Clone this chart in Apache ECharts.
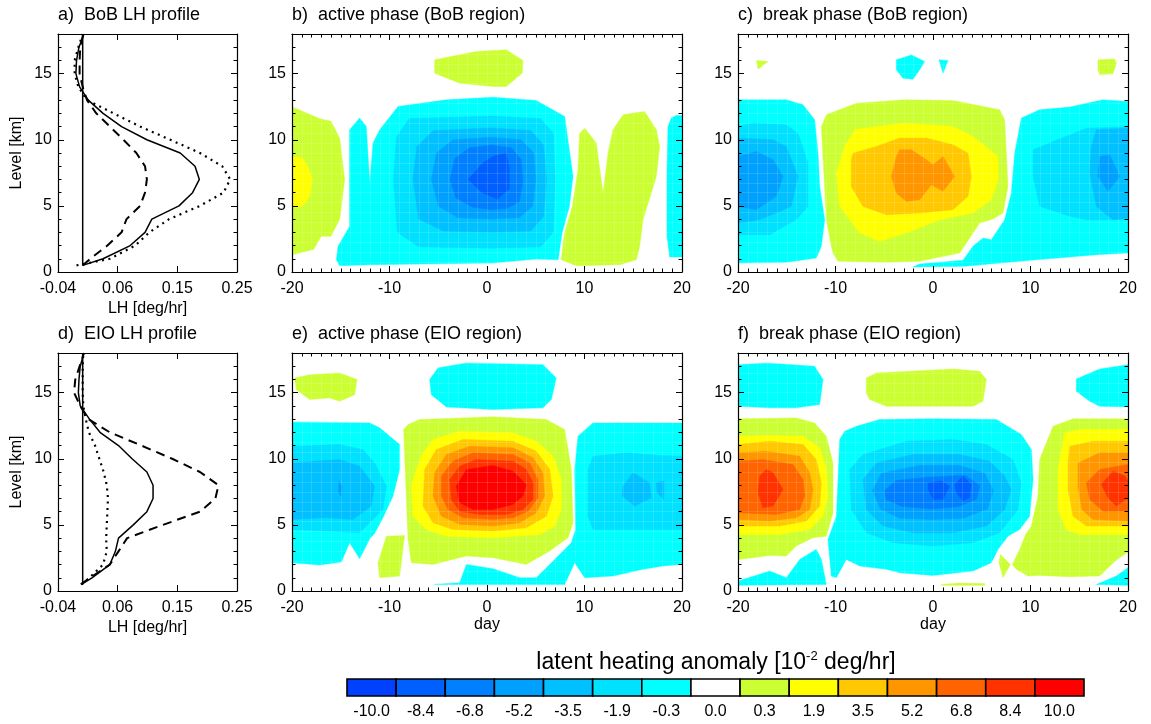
<!DOCTYPE html>
<html>
<head>
<meta charset="utf-8">
<script src="https://cdn.jsdelivr.net/npm/echarts@6/dist/echarts.min.js"></script>
<style>
html, body { margin: 0; padding: 0; background: #fff; }
#chart { width: 1151px; height: 724px; }
</style>
</head>
<body>
<div id="chart"></div>
<script>
// ---- profile data (LH in deg/hr at each level in km) ----
var levels = [0.5, 1, 2, 3, 4, 5, 6, 7, 8, 9, 10, 11, 12, 13, 14, 15, 16, 17, 18];
var bobSolid  = [0.000, 0.033, 0.077, 0.101, 0.112, 0.156, 0.178, 0.189, 0.182, 0.158, 0.104, 0.063, 0.033, 0.009, -0.005, -0.011, -0.010, -0.006, 0.002];
var bobDashed = [0.000, 0.012, 0.040, 0.063, 0.071, 0.093, 0.101, 0.104, 0.101, 0.087, 0.066, 0.044, 0.022, 0.007, 0.000, -0.005, -0.005, -0.004, 0.001];
var bobDotted = [-0.010, 0.044, 0.085, 0.108, 0.140, 0.190, 0.228, 0.239, 0.226, 0.190, 0.142, 0.093, 0.050, 0.007, -0.007, -0.013, -0.013, -0.007, 0.000];
var eioSolid  = [-0.002, 0.015, 0.044, 0.053, 0.058, 0.082, 0.104, 0.114, 0.114, 0.104, 0.080, 0.058, 0.028, 0.011, -0.004, -0.007, -0.006, -0.004, 0.002];
var eioDashed = [-0.003, 0.012, 0.044, 0.058, 0.072, 0.130, 0.190, 0.215, 0.220, 0.190, 0.145, 0.095, 0.044, 0.009, -0.004, -0.014, -0.012, -0.005, 0.002];
var eioDotted = [-0.002, 0.011, 0.033, 0.039, 0.038, 0.039, 0.040, 0.041, 0.039, 0.034, 0.027, 0.020, 0.010, 0.005, 0.001, 0.000, 0.000, 0.000, 0.001];
var zeroLine = [[0, 0.5], [0, 18]];
var lhTicks = [-0.04, 0.0567, 0.1533, 0.25];

// ---- colour classes (10^-2 deg/hr) ----
var classValues = [-10.0, -8.4, -6.8, -5.2, -3.5, -1.9, -0.3, 0.0, 0.3, 1.9, 3.5, 5.2, 6.8, 8.4, 10.0];
var classColors = ['#0040ff', '#0060ff', '#0080ff', '#00a0ff', '#00c0ff', '#00e0ff', '#00ffff', '#ffffff',
                   '#ccff33', '#ffff00', '#ffc800', '#ff9600', '#ff6400', '#ff3200', '#ff0000'];

// ---- contour outlines [class, [[day, km], ...]], outer ones first ----
var bobActive = [
  [0.3, [[-20,12.5],[-17.2,11.6],[-16,11.4],[-15.1,10.1],[-14.6,7.0],[-15.1,4.0],[-16,2.7],[-17,2.7],[-17.8,1.7],[-20,1.3]]],
  [1.9, [[-20,8.74],[-18.9,8.6],[-18.4,8.0],[-17.9,7.0],[-18.2,5.7],[-18.9,4.97],[-20,4.84]]],
  [0.3, [[-5.37,16.05],[-1.09,16.68],[1.98,16.8],[3.69,16.0],[3.62,15.04],[1.98,14.03],[0.62,14.03],[-2.8,14.28],[-5.37,15.04]]],
  [-0.3, [[-14.1,10.76],[-13.06,11.64],[-12.38,11.0],[-12.03,6.73],[-11.69,9.75],[-11.0,10.76],[-9.13,12.52],[-4.17,13.02],[0.62,13.22],[5.06,12.97],[7.97,11.76],[8.82,7.23],[8.45,4.96],[7.7,2.95],[7.3,0.93],[5.06,0.98],[0.62,0.68],[-12.03,0.55],[-15.11,0.48],[-15.45,0.93],[-15.28,1.94],[-14.09,3.45]]],
  [-0.3, [[18.56,11.0],[18.9,11.64],[19.4,11.84],[20,11.84],[20,1.13],[18.74,1.13],[18.46,2.7],[18.46,7.73]]],
  [0.3, [[9.5,10.5],[10.02,10.88],[11.21,9.75],[11.9,5.97],[12.41,8.99],[12.92,10.76],[13.95,11.89],[14.97,12.02],[16.17,12.14],[17.37,10.76],[17.71,9.5],[17.37,7.23],[16.0,3.95],[15.66,1.94],[15.32,0.93],[13.61,0.55],[9.16,0.48],[7.6,0.93],[7.95,2.95],[8.75,4.96],[9.33,7.73]]],
  [-1.9, [[-9.6,7.0],[-9.3,10.2],[-8,11.6],[0.5,11.8],[5.5,11.6],[6.8,10.5],[7.0,7.0],[6.8,3.0],[5.5,1.9],[0.5,1.8],[-7,1.9],[-9.2,3.0]]],
  [-3.5, [[-7.6,7.0],[-7.2,9.5],[-5.5,10.7],[0.5,10.9],[4.5,10.7],[5.8,9.6],[6.1,7.0],[5.8,4.2],[4.5,3.1],[0.5,3.0],[-4.5,3.1],[-7.0,4.0]]],
  [-5.2, [[-5.7,7.0],[-5.2,9.0],[-3.5,10.0],[0.5,10.2],[3.5,10.0],[4.8,9.0],[5.0,7.0],[4.7,5.0],[3.3,4.1],[0.5,4.0],[-3,4.1],[-5.0,5.0]]],
  [-6.8, [[-3.8,7.0],[-3.3,8.6],[-1.8,9.4],[0.5,9.6],[2.5,9.4],[3.5,8.5],[3.7,6.8],[3.3,5.3],[2,4.8],[0.5,4.7],[-1.5,4.9],[-3.2,5.6]]],
  [-8.4, [[-1.95,7.0],[-0.5,8.2],[0.6,8.75],[2.0,9.0],[2.3,7.8],[2.3,6.3],[1.1,5.5],[-0.5,6.0]]]
];

var bobBreak = [
  [-0.3, [[-20,13.02],[-15.04,13.02],[-13.33,12.64],[-12.14,11.51],[-11.79,8.99],[-11.62,6.47],[-11.11,3.95],[-11.45,1.94],[-11.97,1.06],[-15.04,0.73],[-20,0.68]]],
  [-1.9, [[-20,11.0],[-18.46,11.26],[-15.04,11.13],[-13.85,10.5],[-12.82,8.24],[-12.82,4.96],[-14.02,3.95],[-16.75,2.82],[-20,2.82]]],
  [-3.5, [[-20,10.13],[-16.41,10.0],[-15.04,9.5],[-13.85,7.23],[-14.53,4.96],[-17.78,3.95],[-20,3.7]]],
  [-5.2, [[-20,8.74],[-18.12,9.12],[-16.41,8.49],[-15.38,7.23],[-16.07,5.72],[-18.12,4.71],[-20,4.96]]],
  [0.3, [[-18.12,16.0],[-16.92,15.92],[-17.95,15.34]]],
  [-0.3, [[-3.76,16.05],[-2.22,16.42],[-0.85,15.92],[-1.37,15.29],[-2.05,14.58],[-3.08,14.66],[-3.76,15.29]]],
  [-0.3, [[0.62,16.05],[1.54,16.0],[1.03,15.04]]],
  [0.3, [[16.92,16.05],[18.63,16.1],[18.8,15.79],[18.46,14.99],[17.09,14.91],[16.92,15.29]]],
  [0.3, [[-10.94,11.89],[-7.86,12.77],[-2.91,13.02],[2.05,12.97],[6.84,12.27],[7.35,11.51],[7.69,6.47],[7.18,4.46],[6.15,4.0],[4.79,3.7],[4.1,2.95],[2.74,1.44],[-1.37,0.81],[-4.79,0.73],[-9.74,0.81],[-10.26,1.44],[-10.43,1.94],[-10.94,3.95],[-11.45,11.0]]],
  [1.9, [[-9.06,9.5],[-8.03,10.76],[-3.08,11.26],[2.05,11.0],[4.1,10.25],[6.67,8.74],[6.67,6.98],[5.98,5.47],[4.1,4.46],[0.68,3.95],[-2.74,2.95],[-5.47,2.32],[-7.52,2.95],[-9.57,4.96],[-9.91,7.48]]],
  [3.5, [[-8.38,8.49],[-8.21,8.99],[-5.81,9.5],[-3.42,10.13],[-0.68,10.13],[2.05,9.62],[3.59,8.99],[3.93,7.23],[3.59,5.72],[2.05,4.71],[-1.37,4.46],[-4.79,4.33],[-7.18,4.96],[-8.38,6.47]]],
  [5.2, [[-4.27,7.23],[-3.76,8.74],[-3.42,9.24],[-2.22,9.24],[-0.68,8.49],[0,8.11],[1.03,8.74],[2.22,7.23],[1.03,6.1],[-0.17,6.6],[-1.37,5.47],[-2.74,5.34],[-3.76,5.97]]],
  [-0.3, [[9.06,11.64],[10.94,12.27],[14.02,12.47],[17.44,13.02],[20,12.9],[20,1.44],[16.75,1.31],[14.02,1.13],[10.6,0.93],[3.25,0.43],[-2.05,0.38],[-1.37,0.6],[3.08,0.88],[4.1,1.94],[5.13,2.57],[5.98,2.44],[7.35,3.95],[8.03,5.97],[8.38,8.99]]],
  [-1.9, [[10.26,9.24],[12.31,9.87],[15.73,10.88],[20,11.0],[20,3.95],[15.73,3.95],[14.02,4.21],[10.94,4.96],[10.26,7.23]]],
  [-3.5, [[16.75,10.76],[20,10.88],[20,4.08],[18.46,3.95],[16.75,4.96],[16.07,7.48],[16.24,9.5]]],
  [-5.2, [[17.09,8.74],[18.12,8.87],[19.15,7.23],[17.95,6.1],[16.92,7.23]]]
];

var eioActive = [
  [0.3, [[-19.73,16.11],[-18.19,16.36],[-15.11,16.49],[-13.33,15.99],[-13.57,14.85],[-15.11,14.35],[-16.14,14.6],[-18.19,14.48],[-19.56,15.23]]],
  [-0.3, [[-5.03,16.87],[-2.12,17.25],[5.74,17.12],[7.11,16.11],[6.6,14.48],[5.74,13.85],[0.62,13.72],[-4.17,13.92],[-5.71,14.85],[-5.88,15.99]]],
  [-0.3, [[-20,12.79],[-12.03,12.71],[-11.01,12.34],[-8.96,11.08],[-8.96,9.19],[-9.64,7.18],[-10.67,5.54],[-11.52,4.36],[-12.03,3.95],[-13.06,2.44],[-14.09,3.65],[-14.94,2.19],[-17.16,1.96],[-20,2.14]]],
  [-1.9, [[-20,10.95],[-15.11,11.08],[-12.72,10.7],[-11.52,9.69],[-10.32,7.93],[-10.67,6.17],[-13.06,4.41],[-16.48,4.53],[-20,4.66]]],
  [-3.5, [[-20,9.69],[-15.11,9.94],[-13.06,9.44],[-11.52,7.93],[-11.86,6.42],[-13.74,5.41],[-16.48,5.54],[-20,5.41]]],
  [-5.2, [[-15.18,8.31],[-14.9,7.93],[-14.94,7.18],[-15.25,7.43]]],
  [0.3, [[-11.18,2.14],[-10.32,4.15],[-8.45,4.2],[-8.96,1.13],[-11.01,1.01]]],
  [0.3, [[-8.1,12.59],[-6.91,12.97],[0.62,13.17],[6.09,12.97],[7.97,12.21],[8.65,9.19],[8.82,5.16],[8.31,4.03],[6.43,3.02],[4.03,2.01],[0.62,2.52],[-2.12,2.64],[-5.54,2.01],[-7.76,2.14],[-8.1,3.9],[-8.55,12.21]]],
  [-0.3, [[-5.37,0.5],[7.97,0.5],[8.99,2.14],[10.02,1.01],[12.92,1.13],[16,1.64],[18.05,1.89],[20,2.01],[20,12.71],[10.87,12.71],[9.33,11.71],[8.99,9.19],[9.09,4.66],[8.65,3.65],[6.43,2.01],[5.06,1.01],[3.35,1.01],[0.62,1.69],[-2.12,2.01],[-2.8,0.63]]],
  [-1.9, [[10.36,9.19],[10.87,10.2],[14.29,10.45],[17.71,10.25],[20,10.2],[20,4.66],[10.87,4.66],[10.36,5.66]]],
  [-3.5, [[13.95,7.93],[14.97,8.94],[16.68,8.18],[16.85,7.05],[15.14,6.42],[13.87,7.18]]],
  [-3.5, [[17.37,8.18],[18.12,8.31],[18.12,6.92],[17.44,7.43]]],
  [1.9, [[-6.56,10.45],[-5.54,11.46],[-2.8,12.08],[2.67,11.96],[5.06,11.33],[6.77,10.2],[7.62,8.43],[7.62,6.17],[6.94,4.91],[5.4,4.28],[0.62,4.03],[-4.17,4.15],[-6.22,4.66],[-7.59,5.66],[-7.76,7.93],[-7.25,9.19]]],
  [3.5, [[-6.39,9.19],[-5.2,10.7],[-2.46,11.46],[2.67,11.33],[5.06,10.57],[6.43,9.19],[6.77,7.18],[6.09,5.66],[4.03,4.78],[0.62,4.53],[-3.49,4.66],[-5.54,5.16],[-6.56,6.42]]],
  [5.2, [[-5.37,8.94],[-4.17,10.32],[-1.78,10.95],[2.67,10.83],[4.72,10.07],[5.74,8.94],[5.91,7.18],[5.06,5.92],[3.35,5.16],[0.62,4.91],[-2.8,5.04],[-4.68,5.66],[-5.54,7.18]]],
  [6.8, [[-4.68,8.69],[-3.49,9.82],[-1.44,10.45],[2.67,10.32],[4.38,9.69],[5.23,8.43],[5.23,7.05],[4.21,6.04],[2.67,5.54],[0.62,5.41],[-2.46,5.54],[-4.0,6.17],[-4.68,7.18]]],
  [8.4, [[-3.83,8.43],[-2.8,9.44],[-1.09,9.94],[2.67,9.82],[4.03,9.19],[4.72,8.18],[4.72,6.92],[3.69,6.17],[1.98,5.79],[-0.75,5.79],[-2.8,6.04],[-3.66,6.92]]],
  [10.0, [[-3.15,7.93],[-2.12,9.19],[0.62,9.49],[2.67,9.06],[4.03,8.06],[3.69,7.18],[2.67,6.55],[0.62,6.17],[-1.44,6.17],[-2.8,6.67]]]
];

var eioBreak = [
  [-0.3, [[-20,17.12],[-17.09,17.25],[-12.14,16.99],[-11.28,15.99],[-11.62,14.1],[-14.02,13.85],[-16.75,13.85],[-20,13.97]]],
  [0.3, [[-6.84,16.11],[-5.81,16.49],[2.05,16.79],[4.79,16.62],[5.47,15.99],[5.13,14.35],[4.1,13.97],[-4.79,13.97],[-6.5,14.48],[-6.84,14.98]]],
  [-0.3, [[14.7,16.04],[17.09,16.79],[20,17.12],[20,13.92],[17.09,13.97],[16.07,14.35],[14.7,15.11]]],
  [0.3, [[-20,13.02],[-14.02,13.09],[-12.14,12.71],[-10.94,11.71],[-10.26,9.69],[-10.26,5.92],[-10.94,4.15],[-12.31,4.03],[-14.02,3.4],[-15.04,2.64],[-16.75,2.69],[-18.46,2.52],[-20,2.39]]],
  [1.9, [[-20,11.71],[-16.75,11.76],[-13.33,11.71],[-11.62,10.83],[-10.94,9.19],[-10.77,7.18],[-11.28,5.66],[-12.65,4.66],[-15.73,4.28],[-20,4.28]]],
  [3.5, [[-20,11.08],[-16.75,11.33],[-13.33,11.08],[-11.97,9.94],[-11.45,8.18],[-11.62,6.42],[-12.99,5.29],[-15.73,4.91],[-20,4.91]]],
  [5.2, [[-20,10.45],[-17.09,10.57],[-13.67,10.2],[-12.65,8.94],[-12.31,7.68],[-12.65,6.17],[-14.02,5.54],[-16.75,5.29],[-20,5.41]]],
  [6.8, [[-20,9.82],[-17.44,9.94],[-14.36,9.57],[-13.33,8.43],[-13.16,7.18],[-13.67,6.17],[-16.07,5.79],[-20,5.92]]],
  [8.4, [[-17.78,8.69],[-17.09,9.19],[-16.41,8.94],[-15.38,7.68],[-16.41,6.42],[-17.44,6.29],[-17.95,7.43]]],
  [-0.3, [[-9.06,12.08],[-7.86,12.46],[-5.47,12.97],[0,13.02],[6.5,12.97],[9.06,11.83],[10.09,10.7],[10.26,8.43],[9.91,5.66],[8.89,4.66],[7.69,4.15],[6.67,3.15],[5.98,2.14],[4.1,1.51],[0,1.18],[-3.42,1.38],[-4.79,1.64],[-7.52,1.89],[-8.89,2.39],[-9.91,1.01],[-10.43,1.13],[-10.77,3.9],[-9.91,5.66],[-9.74,8.43],[-9.57,11.46]]],
  [-1.9, [[-8.55,9.19],[-7.18,10.32],[-2.74,11.33],[2.05,11.46],[5.47,11.08],[8.21,9.94],[9.06,8.18],[8.72,6.17],[6.84,4.41],[4.1,3.65],[0,3.4],[-4.1,3.65],[-6.84,4.41],[-8.38,6.17]]],
  [-3.5, [[-7.18,8.43],[-5.81,9.69],[-2.05,10.32],[2.74,10.32],[5.81,9.82],[7.35,8.69],[8.03,7.68],[7.35,6.17],[5.47,4.91],[2.05,4.41],[-2.05,4.41],[-5.13,4.91],[-6.84,6.17]]],
  [-5.2, [[-6.2,7.6],[-5.3,8.9],[-1.4,9.5],[2.74,9.5],[5.3,8.9],[6.2,7.6],[5.6,6.2],[3.1,5.5],[0,5.4],[-3.4,5.5],[-5.4,6.2]]],
  [-6.8, [[-5.0,7.6],[-3.8,8.35],[-0.7,8.6],[3.3,8.75],[4.8,8.0],[4.5,6.95],[2.7,6.4],[0,6.2],[-3.2,6.4],[-4.8,6.9]]],
  [-8.4, [[-0.51,8.18],[0.85,8.31],[1.71,7.93],[1.03,6.92],[0,6.92],[-0.51,7.68]]],
  [-8.4, [[2.22,8.06],[3.08,8.69],[3.93,8.06],[3.76,7.05],[3.08,6.8],[2.39,7.43]]],
  [-0.3, [[-20,0.76],[-17.78,1.26],[-16.75,1.51],[-15.04,1.01],[-13.67,2.39],[-11.97,3.15],[-11.45,2.39],[-10.94,0.5],[-20,0.43]]],
  [0.3, [[12.31,12.46],[14.36,13.02],[20,13.02],[20,2.95],[18.8,2.34],[17.09,1.13],[14.02,1.08],[10.94,1.18],[9.74,1.13],[8.55,1.64],[8.14,2.01],[8.89,3.15],[9.5,4.28],[10.09,4.91],[10.77,7.18],[10.94,9.94]]],
  [0.3, [[6.91,2.77],[7.93,2.01],[7.18,1.01],[6.77,2.14]]],
  [1.9, [[13.5,11.96],[15.04,12.21],[20,12.21],[20,4.28],[15.04,4.28],[13.67,4.66],[12.82,6.17],[12.82,9.19]]],
  [3.5, [[14.02,10.95],[16.41,11.33],[20,11.33],[20,4.91],[15.73,4.91],[14.36,5.66],[13.85,7.68],[13.85,9.69]]],
  [5.2, [[14.87,9.69],[17.09,10.45],[20,10.45],[20,5.29],[16.41,5.41],[15.26,6.17],[14.87,7.93]]],
  [6.8, [[15.73,8.18],[17.09,9.19],[20,9.57],[20,6.04],[17.44,6.04],[16.07,6.92]]],
  [8.4, [[17.26,8.06],[18.46,9.06],[19.7,8.69],[20,8.31],[20,7.05],[18.8,6.42],[17.95,7.05]]],
  [-0.3, [[16.75,0.5],[18.8,1.13],[20,1.76],[20,0.43]]],
  [0.3, [[0.85,0.5],[2.7,0.6],[5.3,0.56],[5.3,0.43],[0.85,0.43]]]
];

// ---- layout ----
var FONT = '"Liberation Sans", Arial, Helvetica, sans-serif';
var grids = [
  {left: 58,  top: 34,  width: 179, height: 238},   // a
  {left: 292, top: 34,  width: 390, height: 238},   // b
  {left: 738, top: 34,  width: 390, height: 238},   // c
  {left: 58,  top: 353, width: 179, height: 238},   // d
  {left: 292, top: 353, width: 390, height: 238},   // e
  {left: 738, top: 353, width: 390, height: 238},   // f
  {left: 347, top: 679, width: 737, height: 17}     // colour bar
];
var xAxes = [], yAxes = [], series = [];

function colorOf(v) { return classColors[classValues.indexOf(v)]; }
function pair(xs, ys) { return xs.map(function (x, i) { return [x, ys[i]]; }); }

function valAxis(gi, pos, min, max, interval, o) {
  o = o || {};
  return {
    gridIndex: gi, type: 'value', position: pos, min: min, max: max, interval: interval,
    z: o.z || 6,
    axisLine: {show: o.line !== false, onZero: false, lineStyle: {color: '#000', width: 1.2}},
    axisTick: {show: o.tick !== false, inside: true, length: o.tickLen || 6, customValues: o.ticks,
               lineStyle: {color: '#000', width: 1}},
    minorTick: {show: !!o.minor, splitNumber: o.minor || 5, length: 3.5, lineStyle: {color: '#000', width: 1}},
    axisLabel: {show: !!o.label, margin: o.margin || 8, fontSize: 16, color: '#000', fontFamily: FONT,
                showMinLabel: true, showMaxLabel: !o.hideMax, customValues: o.ticks, formatter: o.fmt},
    splitLine: {show: !!o.split, lineStyle: {color: 'rgba(255,255,255,0.2)', width: 0.7}}
  };
}

function frame(gi, profile) {
  var xi = xAxes.length, yi = yAxes.length;
  if (profile) {
    var fmt = function (v) { return v.toFixed(2); };
    xAxes.push(valAxis(gi, 'bottom', -0.04, 0.25, 0.29 / 3, {label: true, margin: 9, ticks: lhTicks, fmt: fmt}));
    xAxes.push(valAxis(gi, 'top', -0.04, 0.25, 0.29 / 3, {ticks: lhTicks}));
  } else {
    xAxes.push(valAxis(gi, 'bottom', -20, 20, 10, {label: true, margin: 9, minor: 10}));
    xAxes.push(valAxis(gi, 'top', -20, 20, 10, {minor: 10}));
    xAxes.push(valAxis(gi, 'bottom', -20, 20, 1, {line: false, tick: false, split: true, z: 4}));
  }
  yAxes.push(valAxis(gi, 'left', 0, 18, 5, {label: true, margin: 6, hideMax: true}));
  yAxes.push(valAxis(gi, 'left', 0, 18, 1, {line: false, tickLen: 3.5}));
  yAxes.push(valAxis(gi, 'right', 0, 18, 5, {}));
  yAxes.push(valAxis(gi, 'right', 0, 18, 1, {line: false, tickLen: 3.5}));
  if (!profile) yAxes.push(valAxis(gi, 'left', 0, 18, 0.75, {line: false, tick: false, split: true, z: 4}));
  return {x: xi, y: yi};
}

function profilePanel(gi, solid, dashed, dotted) {
  var f = frame(gi, true);
  var base = {type: 'line', xAxisIndex: f.x, yAxisIndex: f.y, showSymbol: false, silent: true, z: 3};
  series.push(Object.assign({}, base, {data: zeroLine, lineStyle: {color: '#000', width: 1.5}}));
  series.push(Object.assign({}, base, {data: pair(solid, levels), lineStyle: {color: '#000', width: 1.5}}));
  series.push(Object.assign({}, base, {data: pair(dashed, levels), lineStyle: {color: '#000', width: 2, type: [9, 6]}}));
  series.push(Object.assign({}, base, {data: pair(dotted, levels), lineStyle: {color: '#000', width: 2.2, type: [2, 4.5]}}));
}

function contourPanel(gi, regions) {
  var f = frame(gi, false);
  series.push({
    type: 'custom', xAxisIndex: f.x, yAxisIndex: f.y, clip: true, silent: true, z: 2,
    data: regions.map(function (r, i) { return [r[1][0][0], r[1][0][1], r[0], i]; }),
    renderItem: function (params, api) {
      var reg = regions[api.value(3)];
      var pts = reg[1].map(function (p) { return api.coord(p); });
      var c = colorOf(reg[0]);
      return {type: 'polygon', z2: api.value(3), shape: {points: pts},
              style: {fill: c, stroke: c, lineWidth: 0.4}};
    }
  });
}

profilePanel(0, bobSolid, bobDashed, bobDotted);
contourPanel(1, bobActive);
contourPanel(2, bobBreak);
profilePanel(3, eioSolid, eioDashed, eioDotted);
contourPanel(4, eioActive);
contourPanel(5, eioBreak);

// colour bar
var cbX = xAxes.length, cbY = yAxes.length;
xAxes.push({gridIndex: 6, type: 'category', data: classValues.map(function (v) { return v.toFixed(1); }),
  axisLine: {show: false}, axisTick: {show: false},
  axisLabel: {interval: 0, margin: 8, fontSize: 16, color: '#000', fontFamily: FONT}});
yAxes.push({gridIndex: 6, type: 'value', min: 0, max: 1, show: false});
series.push({
  type: 'custom', xAxisIndex: cbX, yAxisIndex: cbY, silent: true,
  data: classValues.map(function (v, i) { return [i, v]; }),
  renderItem: function (params, api) {
    var i = api.value(0);
    var p0 = api.coord([i, 0]), p1 = api.coord([i, 1]);
    var w = api.size([1, 0])[0];
    return {type: 'rect', shape: {x: p0[0] - w / 2, y: p1[1], width: w, height: p0[1] - p1[1]},
            style: {fill: classColors[i], stroke: '#000', lineWidth: 1.6}};
  }
});

function txt(x, y, s, size, align, rot) {
  return {type: 'text', x: x, y: y, rotation: rot || 0, silent: true,
    style: {text: s, fontSize: size, fontFamily: FONT, fill: '#000',
            align: align || 'center', textAlign: align || 'center',
            verticalAlign: 'middle', textVerticalAlign: 'middle'}};
}

var graphics = [
  txt(58, 15, 'a)  BoB LH profile', 18, 'left'),
  txt(292, 15, 'b)  active phase (BoB region)', 18, 'left'),
  txt(738, 15, 'c)  break phase (BoB region)', 18, 'left'),
  txt(58, 334, 'd)  EIO LH profile', 18, 'left'),
  txt(292, 334, 'e)  active phase (EIO region)', 18, 'left'),
  txt(738, 334, 'f)  break phase (EIO region)', 18, 'left'),
  txt(17, 153, 'Level [km]', 16, 'center', Math.PI / 2),
  txt(17, 472, 'Level [km]', 16, 'center', Math.PI / 2),
  txt(147.5, 309, 'LH [deg/hr]', 16),
  txt(147.5, 628, 'LH [deg/hr]', 16),
  txt(487, 625, 'day', 16),
  txt(933, 625, 'day', 16),
  {type: 'text', x: 716, y: 663, silent: true,
   style: {text: '{a|latent heating anomaly [10}{s|-2}{a| deg/hr]}', fill: '#000',
           align: 'center', textAlign: 'center', verticalAlign: 'middle', textVerticalAlign: 'middle',
           rich: {a: {fontSize: 23, fontFamily: FONT, lineHeight: 26, fill: '#000'},
                  s: {fontSize: 13, fontFamily: FONT, lineHeight: 26, verticalAlign: 'top', fill: '#000'}}}}
];

var chart = echarts.init(document.getElementById('chart'), null, {renderer: 'canvas'});
chart.setOption({
  animation: false,
  backgroundColor: '#fff',
  grid: grids,
  xAxis: xAxes,
  yAxis: yAxes,
  series: series,
  graphic: graphics
});
</script>
</body>
</html>
